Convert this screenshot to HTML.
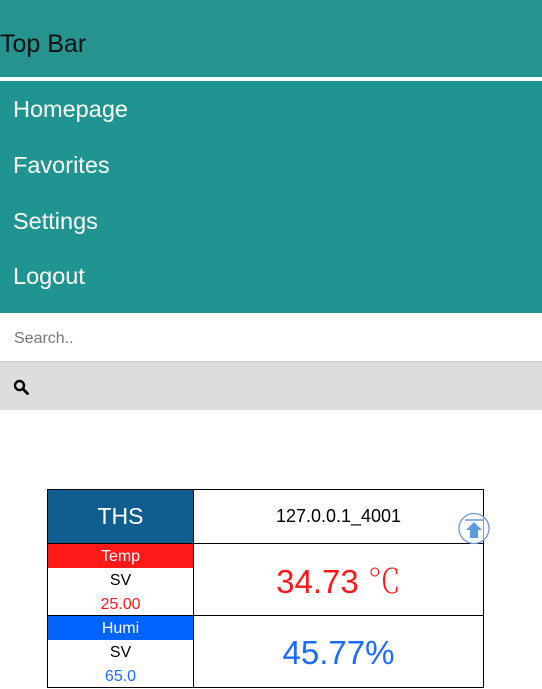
<!DOCTYPE html>
<html><head><meta charset="utf-8"><style>
*{box-sizing:border-box;margin:0;padding:0}
body{width:542px;height:678px;overflow:hidden;background:#fff;font-family:"Liberation Sans",sans-serif;position:relative}
#topbar{position:absolute;left:0;top:0;width:542px;height:77px;background:#26938f;}
#topbar span{position:absolute;left:0;top:30px;font-size:25px;color:#111;}
#sep{position:absolute;top:77px;left:0;width:542px;height:4px;background:#fff}
#menu{position:absolute;top:81px;left:0;width:542px;height:232px;background:#209490}
.mi{position:absolute;left:13px;color:#fff;font-size:23.5px}
#search{position:absolute;top:313px;left:0;width:542px;height:49px;border-bottom:1px solid #ccc;background:#fff}
#search span{position:absolute;left:14px;top:16px;font-size:16px;color:#777}
#sbtn{position:absolute;top:362px;left:0;width:542px;height:48px;background:#ddd}
table{position:absolute;left:47px;top:489px;width:437px;border-collapse:collapse}
td{border:1px solid #000;text-align:center;vertical-align:middle;padding:0}
.l{width:146px}
</style></head><body>
<div id="topbar"><span>Top Bar</span></div>
<div id="sep"></div>
<div id="menu">
<div class="mi" style="top:15px">Homepage</div>
<div class="mi" style="top:71px">Favorites</div>
<div class="mi" style="top:127px">Settings</div>
<div class="mi" style="top:182px">Logout</div>
</div>
<div id="search"><span style="top:17px">Search..</span></div>
<div id="sbtn">
<svg style="position:absolute;left:13px;top:17px" width="16" height="16" viewBox="0 0 16 16"><circle cx="6.5" cy="6.5" r="4.5" fill="none" stroke="#000" stroke-width="2.4"/><line x1="10" y1="10" x2="14.5" y2="14.5" stroke="#000" stroke-width="2.8" stroke-linecap="round"/></svg>
</div>
<table>
<tr style="height:54px"><td class="l" style="background:#0f5e8f;color:#fff;font-size:23px">THS</td><td style="font-size:18px;color:#000">127.0.0.1_4001</td></tr>
<tr style="height:72px"><td class="l" style="vertical-align:top">
<div style="background:#ff1a1a;color:#fff;font-size:16px;height:24px;line-height:26px">Temp</div>
<div style="font-size:16px;height:24px;line-height:26px">SV</div>
<div style="font-size:16px;color:#ff1a1a;height:23px;line-height:25px">25.00</div></td>
<td style="font-size:33px;color:#ff1a1a">34.73 <span style="font-family:'Noto Serif CJK SC',serif;font-weight:200">℃</span></td></tr>
<tr style="height:72px"><td class="l" style="vertical-align:top">
<div style="background:#0063ff;color:#fff;font-size:16px;height:24px;line-height:26px">Humi</div>
<div style="font-size:16px;height:24px;line-height:26px">SV</div>
<div style="font-size:16px;color:#1a6bff;height:23px;line-height:25px">65.0</div></td>
<td style="font-size:33px;color:#1a6bff;vertical-align:top;padding-top:18px">45.77%</td></tr>
</table>
<svg style="position:absolute;left:458px;top:512px" width="33" height="33" viewBox="0 0 33 33"><circle cx="16" cy="16.5" r="15" fill="#fff" fill-opacity="0.6" stroke="#6a9bd0" stroke-width="1.3"/><line x1="7" y1="8" x2="25" y2="8" stroke="#5b9be0" stroke-width="1.5"/><polygon points="16,10 24,18 20,18 20,26 12,26 12,18 8,18" fill="#5b9be0"/></svg>
</body></html>
